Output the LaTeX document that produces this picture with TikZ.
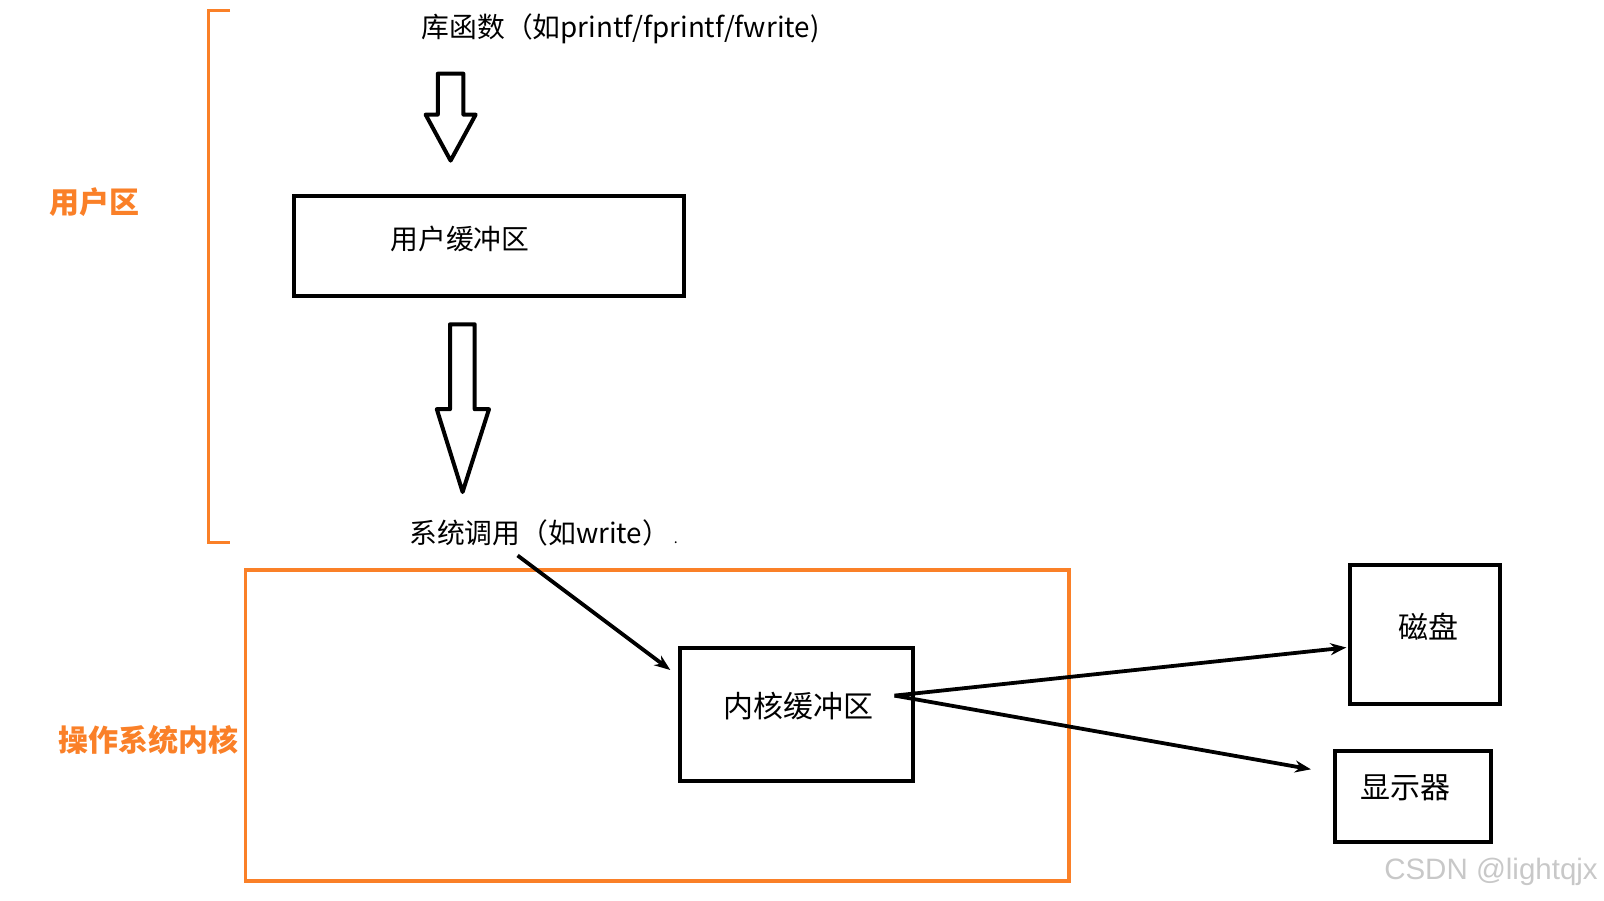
\documentclass[tikz,border=0pt]{standalone}
\usepackage{fontspec}
\setmainfont{Noto Sans CJK SC}
\usetikzlibrary{arrows.meta,calc}
\definecolor{zoneorange}{RGB}{250,128,40}
\definecolor{wmgray}{RGB}{200,200,200}
\tikzset{
  blackbox/.style={draw=black,line width=4pt,fill=none,inner sep=0pt},
  zonebox/.style={draw=zoneorange,line width=3.5pt,inner sep=0pt},
  zonelabel/.style={text=zoneorange,font=\fontsize{30}{34}\selectfont\bfseries,inner sep=0pt},
  plain/.style={font=\fontsize{27.8}{32}\selectfont,inner sep=0pt},
  big/.style={font=\fontsize{30}{34}\selectfont,inner sep=0pt},
  hollow/.style={draw=black,line width=4pt,fill=white,line join=round},
  conn/.style={draw=black,line width=3.8pt,-{Stealth[length=16pt,width=12pt]}},
  bracketline/.style={draw=zoneorange,line width=3pt}
}
\begin{document}
\begin{tikzpicture}[x=1pt,y=-1pt]
\useasboundingbox (0,0) rectangle (1604,900);
% user zone bracket
\draw[bracketline] (230,10) -- (208.7,10) -- (208.7,542) -- (230,542);
\node[zonelabel] (ulabel) at (94,202.5) {用户区};
% kernel zone
\node[zonebox,minimum width=823.5pt,minimum height=311pt] (kzone) at (657.25,725.3) {};
\node[zonelabel] (klabel) at (148.3,740) {操作系统内核};
% top library text
\node[plain,anchor=west] (lib) at (421.5,28.6) {库函数（如printf/fprintf/fwrite)};
% hollow arrow 1
\draw[hollow] (437.8,73.7) -- (463.4,73.7) -- (463.4,114.6) -- (475.7,114.6) -- (450.6,160.6) -- (425.6,114.6) -- (437.8,114.6) -- cycle;
% user buffer
\node[blackbox,minimum width=390.8pt,minimum height=99.2pt] (ubuf) at (489,246) {};
\node[plain] (ubuftxt) at ($(ubuf.center)+(-29,-7)$) {用户缓冲区};
% hollow arrow 2
\draw[hollow] (450,324.3) -- (474.7,324.3) -- (474.7,409.2) -- (489,409.2) -- (462.6,492) -- (436.8,409.2) -- (450,409.2) -- cycle;
% syscall text
\node[plain,anchor=west] (sys) at (409,533) {系统调用（如write）\hspace{4pt}{\fontsize{14}{16}\selectfont .}};
% kernel buffer
\node[blackbox,minimum width=232.2pt,minimum height=133pt] (kbuf) at (796.4,714) {};
\node[big] (kbuftxt) at ($(kbuf.center)+(2,-8)$) {内核缓冲区};
% disk
\node[blackbox,minimum width=149.3pt,minimum height=139.1pt] (disk) at (1425,634.3) {};
\node[big] (disktxt) at ($(disk.center)+(3,-8)$) {磁盘};
% display
\node[blackbox,minimum width=156.5pt,minimum height=91.1pt] (disp) at (1413.2,796.5) {};
\node[big] (disptxt) at ($(disp.center)+(-7.5,-9)$) {显示器};
% connectors
\coordinate (sysout) at (517.6,555.5);
\coordinate (kin) at ($(kbuf.north west)+(-8,24.5)$);
\coordinate (kout) at ($(kbuf.east)+(-20,-18.4)$);
\draw[conn] (sysout) -- (kin);
\draw[conn] (kout) -- ($(disk.west)+(-2,13.2)$);
\draw[conn] (kout) -- ($(disp.west)+(-22,-27.2)$);
% watermark
\node[inner sep=0pt,anchor=east,text=wmgray,font=\fontspec{Liberation Sans}\fontsize{29.5}{32}\selectfont] (wm) at (1598,872) {CSDN @lightqjx};
\end{tikzpicture}
\end{document}
